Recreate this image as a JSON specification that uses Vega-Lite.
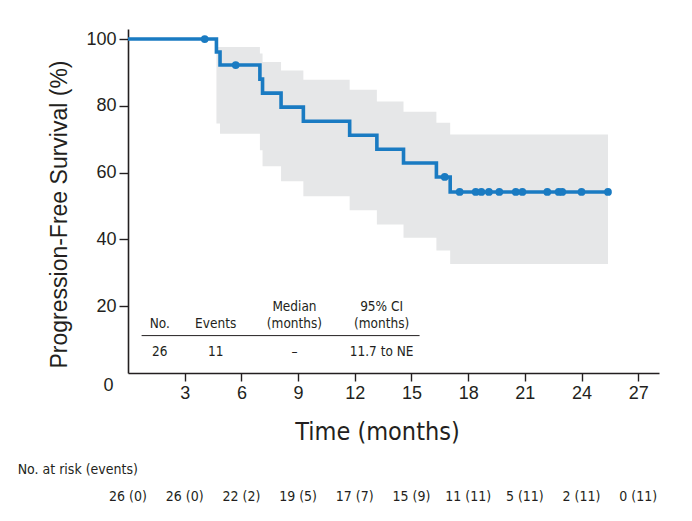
{
  "$schema": "https://vega.github.io/schema/vega-lite/v6.json",
  "width": 531,
  "height": 344,
  "autosize": {"type": "none"},
  "padding": {"left": 128, "top": 29, "right": 33, "bottom": 148},
  "background": "#ffffff",
  "config": {
    "view": {"stroke": null},
    "font": "Liberation Sans",
    "axis": {"domainColor": "#231f20", "tickColor": "#231f20", "labelColor": "#231f20", "titleColor": "#231f20", "grid": false, "domainWidth": 1.6, "tickWidth": 1.4}
  },
  "datasets": {
    "band": [
      {"t": 4.68, "lo": 74.7, "hi": 97.6},
      {"t": 4.87, "lo": 71.6, "hi": 97.6},
      {"t": 6.98, "lo": 66.7, "hi": 95.7},
      {"t": 7.12, "lo": 61.9, "hi": 93.1},
      {"t": 8.1, "lo": 57.4, "hi": 90.6},
      {"t": 9.28, "lo": 52.9, "hi": 87.8},
      {"t": 11.73, "lo": 48.7, "hi": 84.8},
      {"t": 13.17, "lo": 44.5, "hi": 81.3},
      {"t": 14.58, "lo": 40.5, "hi": 78.2},
      {"t": 16.32, "lo": 36.7, "hi": 74.9},
      {"t": 17.05, "lo": 32.6, "hi": 71.4},
      {"t": 25.4, "lo": 32.6, "hi": 71.4}
    ],
    "curve": [
      {"t": 0, "s": 100},
      {"t": 4.68, "s": 96.1},
      {"t": 4.87, "s": 92.2},
      {"t": 6.98, "s": 88.0},
      {"t": 7.12, "s": 83.8},
      {"t": 8.1, "s": 79.6},
      {"t": 9.28, "s": 75.4},
      {"t": 11.73, "s": 71.2},
      {"t": 13.17, "s": 67.0},
      {"t": 14.58, "s": 62.9},
      {"t": 16.32, "s": 58.7},
      {"t": 17.05, "s": 54.2},
      {"t": 25.4, "s": 54.2}
    ],
    "censor": [
      {"t": 4.06, "s": 100},
      {"t": 5.7, "s": 92.2},
      {"t": 16.76, "s": 58.7},
      {"t": 17.55, "s": 54.2},
      {"t": 18.4, "s": 54.2},
      {"t": 18.7, "s": 54.2},
      {"t": 19.1, "s": 54.2},
      {"t": 19.65, "s": 54.2},
      {"t": 20.52, "s": 54.2},
      {"t": 20.87, "s": 54.2},
      {"t": 22.19, "s": 54.2},
      {"t": 22.79, "s": 54.2},
      {"t": 22.98, "s": 54.2},
      {"t": 24.0, "s": 54.2},
      {"t": 25.4, "s": 54.2}
    ],
    "table": [
      {"col": 8.81, "row": 19.9, "text": "Median"},
      {"col": 13.42, "row": 19.9, "text": "95% CI"},
      {"col": 1.68, "row": 14.8, "text": "No."},
      {"col": 4.64, "row": 14.8, "text": "Events"},
      {"col": 8.81, "row": 14.8, "text": "(months)"},
      {"col": 13.42, "row": 14.8, "text": "(months)"},
      {"col": 1.68, "row": 6.4, "text": "26"},
      {"col": 4.64, "row": 6.4, "text": "11"},
      {"col": 8.81, "row": 6.4, "text": "–"},
      {"col": 13.42, "row": 6.4, "text": "11.7 to NE"}
    ],
    "tableRule": [{"x1": 0.72, "x2": 15.43, "row": 11.2}],
    "risk": [
      {"t": 0, "label": "26 (0)"},
      {"t": 3, "label": "26 (0)"},
      {"t": 6, "label": "22 (2)"},
      {"t": 9, "label": "19 (5)"},
      {"t": 12, "label": "17 (7)"},
      {"t": 15, "label": "15 (9)"},
      {"t": 18, "label": "11 (11)"},
      {"t": 21, "label": "5 (11)"},
      {"t": 24, "label": "2 (11)"},
      {"t": 27, "label": "0 (11)"}
    ],
    "riskTitle": [{"t": -5.84, "label": "No. at risk (events)"}]
  },
  "layer": [
    {
      "data": {"name": "band"},
      "mark": {"type": "area", "interpolate": "step-after", "color": "#e6e7e8"},
      "encoding": {
        "x": {
          "field": "t", "type": "quantitative",
          "scale": {"domain": [0, 28.1], "nice": false, "zero": false},
          "title": "Time (months)",
          "axis": {
            "values": [0, 3, 6, 9, 12, 15, 18, 21, 24, 27],
            "titleFont": "DejaVu Sans Condensed, Liberation Sans, sans-serif",
            "titleFontSize": 25,
            "titleFontWeight": "normal",
            "titlePadding": 17,
            "titleX": 249,
            "titleAlign": "center",
            "labelFontSize": 18,
            "labelPadding": 3,
            "tickSize": {"condition": {"test": "datum.value === 0", "value": 0}, "value": 8},
            "labelOffset": {"condition": {"test": "datum.value === 0", "value": -20}, "value": 0},
            "labelFlush": false
          }
        },
        "y": {
          "field": "lo", "type": "quantitative",
          "scale": {"domain": [0, 103], "nice": false},
          "title": "Progression-Free Survival (%)",
          "axis": {
            "values": [20, 40, 60, 80, 100],
            "titleFontSize": 23,
            "titleFontWeight": "normal",
            "titlePadding": 14,
            "titleY": 185,
            "titleAlign": "center",
            "labelFontSize": 18,
            "labelPadding": 3,
            "tickSize": 9
          }
        },
        "y2": {"field": "hi"}
      }
    },
    {
      "data": {"name": "curve"},
      "mark": {"type": "line", "interpolate": "step-after", "color": "#1a7bc2", "strokeWidth": 3.6},
      "encoding": {
        "x": {"field": "t", "type": "quantitative"},
        "y": {"field": "s", "type": "quantitative"}
      }
    },
    {
      "data": {"name": "censor"},
      "mark": {"type": "point", "filled": true, "color": "#1a7bc2", "size": 60, "opacity": 1},
      "encoding": {
        "x": {"field": "t", "type": "quantitative"},
        "y": {"field": "s", "type": "quantitative"}
      }
    },
    {
      "data": {"name": "table"},
      "mark": {"type": "text", "font": "DejaVu Sans Condensed, Liberation Sans, sans-serif", "fontSize": 13.5, "color": "#231f20", "align": "center", "baseline": "middle"},
      "encoding": {
        "x": {"field": "col", "type": "quantitative"},
        "y": {"field": "row", "type": "quantitative"},
        "text": {"field": "text"}
      }
    },
    {
      "data": {"name": "tableRule"},
      "mark": {"type": "rule", "color": "#231f20", "strokeWidth": 1},
      "encoding": {
        "x": {"field": "x1", "type": "quantitative"},
        "x2": {"field": "x2"},
        "y": {"field": "row", "type": "quantitative"}
      }
    },
    {
      "data": {"name": "risk"},
      "mark": {"type": "text", "font": "DejaVu Sans Condensed, Liberation Sans, sans-serif", "fontSize": 14, "color": "#231f20", "align": "center", "baseline": "middle"},
      "encoding": {
        "x": {"field": "t", "type": "quantitative"},
        "y": {"datum": -37, "type": "quantitative"},
        "text": {"field": "label"}
      }
    },
    {
      "data": {"name": "riskTitle"},
      "mark": {"type": "text", "font": "DejaVu Sans Condensed, Liberation Sans, sans-serif", "fontSize": 14, "color": "#231f20", "align": "left", "baseline": "middle"},
      "encoding": {
        "x": {"field": "t", "type": "quantitative"},
        "y": {"datum": -29, "type": "quantitative"},
        "text": {"field": "label"}
      }
    }
  ]
}
